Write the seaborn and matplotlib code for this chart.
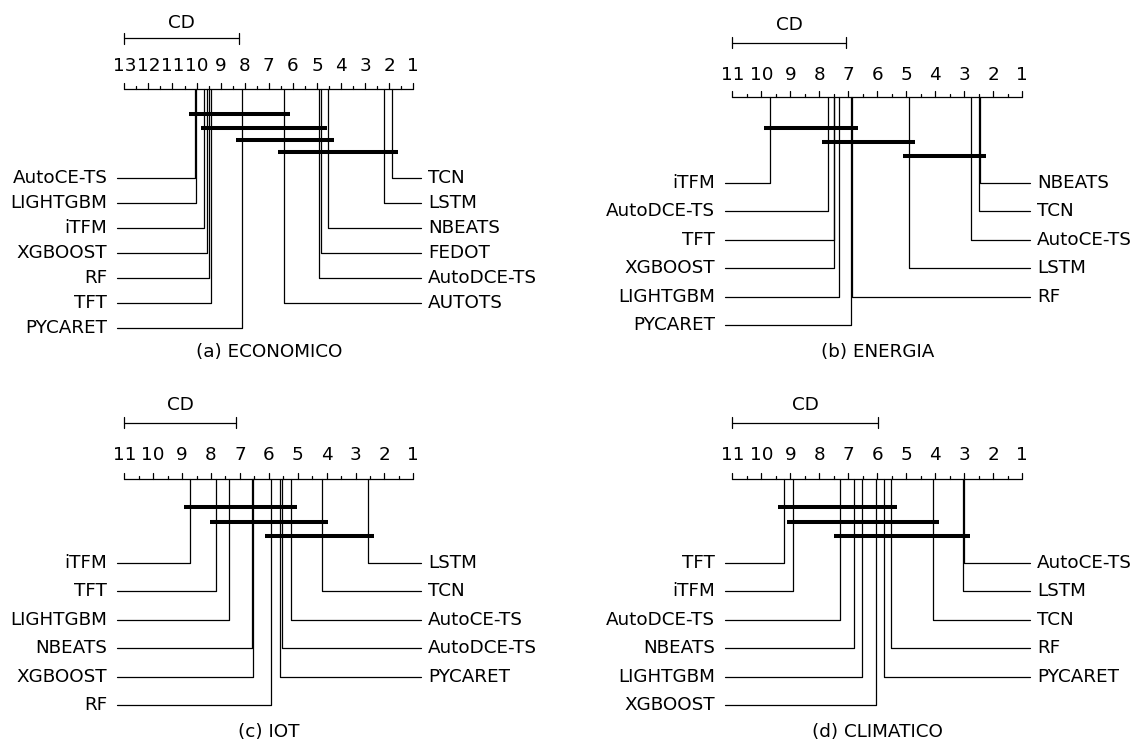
import math
import numpy as np
import matplotlib.pyplot as plt
import seaborn as sns

sns.set_theme(style="white")
plt.rcParams["font.family"] = ["DejaVu Sans"]
plt.rcParams["text.color"] = "black"

W, H = 1131, 743

# (a) ECONOMICO - average ranks
names_a = ["AutoCE-TS", "LIGHTGBM", "iTFM", "XGBOOST", "RF", "TFT", "PYCARET",
           "AUTOTS", "AutoDCE-TS", "FEDOT", "NBEATS", "LSTM", "TCN"]
ranks_a = [10.08, 10.03, 9.71, 9.56, 9.49, 9.42, 8.12, 6.35, 4.90, 4.85, 4.56, 2.21, 1.90]
cliques_a = [("AutoCE-TS", "AUTOTS"), ("XGBOOST", "FEDOT"), ("PYCARET", "NBEATS"), ("AUTOTS", "TCN")]
cd_a = 4.75

# (b) ENERGIA
names_b = ["iTFM", "AutoDCE-TS", "TFT", "XGBOOST", "LIGHTGBM", "PYCARET",
           "RF", "LSTM", "AutoCE-TS", "TCN", "NBEATS"]
ranks_b = [9.70, 7.71, 7.51, 7.50, 7.32, 6.90, 6.86, 4.90, 2.77, 2.49, 2.45]
cliques_b = [("iTFM", "RF"), ("AutoDCE-TS", "LSTM"), ("LSTM", "NBEATS")]
cd_b = 3.92

# (c) IOT
names_c = ["iTFM", "TFT", "LIGHTGBM", "NBEATS", "XGBOOST", "RF",
           "PYCARET", "AutoDCE-TS", "AutoCE-TS", "TCN", "LSTM"]
ranks_c = [8.73, 7.84, 7.38, 6.58, 6.56, 5.92, 5.60, 5.53, 5.23, 4.17, 2.58]
cliques_c = [("iTFM", "AutoCE-TS"), ("TFT", "TCN"), ("RF", "LSTM")]
cd_c = 3.86

# (d) CLIMATICO
names_d = ["TFT", "iTFM", "AutoDCE-TS", "NBEATS", "LIGHTGBM", "XGBOOST",
           "PYCARET", "RF", "TCN", "LSTM", "AutoCE-TS"]
ranks_d = [9.23, 8.92, 7.29, 6.81, 6.53, 6.03, 5.76, 5.53, 4.08, 3.05, 3.02]
cliques_d = [("TFT", "RF"), ("iTFM", "TCN"), ("AutoDCE-TS", "AutoCE-TS")]
cd_d = 5.03

# layout of each panel in figure pixels
layout_top_a = dict(x0=124.3, x1=413.3, cd_text=22.7, cd=38.3, ticks=65.7, axis=89.3,
                    bars=[113.7, 127.7, 139.7, 151.7], lab0=177.7, step=25.1, cap=351.7)
layout_top_b = dict(x0=732.3, x1=1022.3, cd_text=25, cd=42.7, ticks=75, axis=97.3,
                    bars=[127.7, 142.3, 156], lab0=183, step=28.4, cap=351.7)
layout_bot_c = dict(x0=124.3, x1=413.3, cd_text=405, cd=422.7, ticks=455, axis=479,
                    bars=[507.3, 522, 535.7], lab0=562.7, step=28.45, cap=731.7)
layout_bot_d = dict(x0=732.3, x1=1022.3, cd_text=405, cd=422.7, ticks=455, axis=479,
                    bars=[507.3, 522, 535.7], lab0=562.7, step=28.45, cap=731.7)

panels = [
    ("(a) ECONOMICO", names_a, ranks_a, cliques_a, cd_a, layout_top_a),
    ("(b) ENERGIA", names_b, ranks_b, cliques_b, cd_b, layout_top_b),
    ("(c) IOT", names_c, ranks_c, cliques_c, cd_c, layout_bot_c),
    ("(d) CLIMATICO", names_d, ranks_d, cliques_d, cd_d, layout_bot_d),
]

FS = 13.2
LW = 0.9


def draw_cd(fig, title, names, ranks, cliques, cd, lay):
    k = len(names)
    ax = fig.add_axes([0, 0, 1, 1])
    ax.axis("off")
    ax.patch.set_alpha(0)
    ppr = (lay["x1"] - lay["x0"]) / (k - 1)
    px = 1 / ppr
    ax.set_xlim(k + lay["x0"] / ppr, k - (W - lay["x0"]) / ppr)
    ax.set_ylim(H, 0)
    rank = dict(zip(names, ranks))
    ya = lay["axis"]

    # rank axis
    ax.plot([k, 1], [ya, ya], color="black", lw=LW)
    for r in np.arange(1, k + 0.5, 0.5):
        tl = 6 if r == int(r) else 3
        ax.plot([r, r], [ya, ya - tl], color="black", lw=LW)
    for r in range(1, k + 1):
        ax.text(r, lay["ticks"], str(r), ha="center", va="center", fontsize=FS)

    # CD bracket
    yc = lay["cd"]
    ax.plot([k, k - cd], [yc, yc], color="black", lw=LW)
    for x in (k, k - cd):
        ax.plot([x, x], [yc - 5.5, yc + 5.5], color="black", lw=LW)
    ax.text(k - cd / 2, lay["cd_text"], "CD", ha="center", va="center", fontsize=FS)

    # method lines and labels
    order = sorted(names, key=lambda n: -rank[n])
    nleft = math.ceil(k / 2)
    left = order[:nleft]
    right = sorted(order[nleft:], key=lambda n: rank[n])
    for i, n in enumerate(left):
        y = lay["lab0"] + i * lay["step"]
        ax.plot([rank[n], rank[n], k + 7.6 * px], [ya, y, y], color="black", lw=LW)
        ax.text(k + 17 * px, y, n, ha="right", va="center", fontsize=FS)
    for i, n in enumerate(right):
        y = lay["lab0"] + i * lay["step"]
        ax.plot([rank[n], rank[n], 1 - 7.6 * px], [ya, y, y], color="black", lw=LW)
        ax.text(1 - 14.5 * px, y, n, ha="left", va="center", fontsize=FS)

    # groups without significant difference
    for (hi, lo), yb in zip(cliques, lay["bars"]):
        ax.plot([rank[hi] + 6 * px, rank[lo] - 6 * px], [yb, yb], color="black",
                lw=2.9, solid_capstyle="butt")

    ax.text((k + 1) / 2, lay["cap"], title, ha="center", va="center", fontsize=FS)


fig = plt.figure(figsize=(W / 100, H / 100), dpi=100)
for p in panels:
    draw_cd(fig, *p)
fig.savefig("out.png", dpi=100)
plt.close(fig)
